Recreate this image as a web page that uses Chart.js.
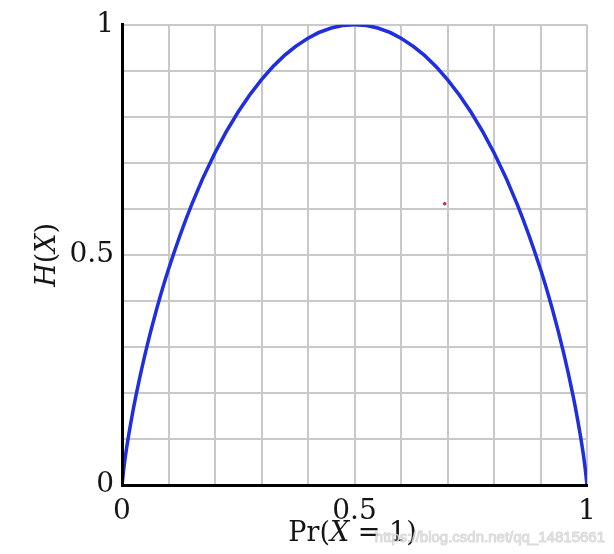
<!DOCTYPE html>
<html>
<head>
<meta charset="utf-8">
<script src="https://cdn.jsdelivr.net/npm/chart.js@4"></script>
<style>
  html, body { margin: 0; padding: 0; background: #fff; }
  #grafico { display: block; }
</style>
</head>
<body>
<canvas id="grafico" width="614" height="554"></canvas>
<script>
// Pr(X = 1) e H(X)
const probabilidades = [0, 0.005, 0.01, 0.02, 0.03, 0.05, 0.075, 0.1, 0.15, 0.2, 0.25, 0.3, 0.35, 0.4, 0.45, 0.5,
    0.55, 0.6, 0.65, 0.7, 0.75, 0.8, 0.85, 0.9, 0.925, 0.95, 0.97, 0.98, 0.99, 0.995, 1];
const entropias = [0, 0.045, 0.081, 0.141, 0.194, 0.286, 0.384, 0.469, 0.610, 0.722, 0.811, 0.881, 0.934, 0.971, 0.993, 1,
    0.993, 0.971, 0.934, 0.881, 0.811, 0.722, 0.610, 0.469, 0.384, 0.286, 0.194, 0.141, 0.081, 0.045, 0];
const rotulosX = [0, 0.5, 1];
const rotulosY = [0, 0.5, 1];
// pontinho vermelho perdido na imagem
const pontoSolto = [{ x: 0.694, y: 0.611 }];

const corCurva = `#1e2ee0`;
const corGrade = `#c9c9c9`;
const corTexto = `#151515`;
const fonteSerif = `"DejaVu Serif", "Liberation Serif", serif`;

const rotulo = lista => valor => {
    const v = Math.round(valor * 10) / 10;
    return lista.includes(v) ? String(v) : "";
};

function escreverPartes(ctx, partes, xCentro, y) {
    let larg = 0;
    partes.forEach(p => { ctx.font = p.f; larg += ctx.measureText(p.t).width; });
    let x = xCentro - larg / 2;
    partes.forEach(p => {
        ctx.font = p.f;
        ctx.fillText(p.t, x, y);
        x += ctx.measureText(p.t).width;
    });
}

const titulos = {
    id: "titulos",
    afterDraw(chart) {
        const { ctx, chartArea } = chart;
        const normal = `27px ${fonteSerif}`;
        const italico = `italic 27px ${fonteSerif}`;
        ctx.save();
        ctx.fillStyle = corTexto;
        ctx.textBaseline = "middle";
        ctx.textAlign = "left";

        escreverPartes(ctx, [
            { t: "Pr(", f: normal },
            { t: "X", f: italico },
            { t: " = 1)", f: normal },
        ], (chartArea.left + chartArea.right) / 2 - 2, 534);

        ctx.translate(48, (chartArea.top + chartArea.bottom) / 2);
        ctx.rotate(-Math.PI / 2);
        escreverPartes(ctx, [
            { t: "H", f: italico },
            { t: "(", f: normal },
            { t: "X", f: italico },
            { t: ")", f: normal },
        ], 0, 0);
        ctx.restore();

        // marca d'agua
        ctx.save();
        ctx.font = `15px "Liberation Sans", Arial, sans-serif`;
        ctx.textAlign = "right";
        ctx.textBaseline = "middle";
        ctx.fillStyle = "rgba(222,222,222,0.92)";
        ctx.strokeStyle = "rgba(140,140,140,0.35)";
        ctx.lineWidth = 1;
        ctx.strokeText("https://blog.csdn.net/qq_14815661", 605, 538);
        ctx.fillText("https://blog.csdn.net/qq_14815661", 605, 538);
        ctx.restore();
    }
};

const ctx = document.querySelector("#grafico");

new Chart(ctx, {
    type: "scatter",
    data: {
        datasets: [
            {
                data: probabilidades.map((p, i) => ({ x: p, y: entropias[i] })),
                showLine: true,
                borderColor: corCurva,
                borderWidth: 3.5,
                pointRadius: 0,
                cubicInterpolationMode: "monotone",
                fill: false,
            },
            {
                data: pontoSolto,
                pointRadius: 1.8,
                pointBackgroundColor: "#c0303a",
                pointBorderWidth: 0,
            }
        ]
    },
    options: {
        responsive: false,
        animation: false,
        layout: { padding: { left: 0, top: 22, right: 27, bottom: 0 } },
        plugins: { legend: { display: false }, tooltip: { enabled: false } },
        scales: {
            x: {
                type: "linear",
                min: 0,
                max: 1,
                afterFit: scale => { scale.height = 69; },
                border: { color: "#000", width: 3, z: 1 },
                grid: { color: corGrade, lineWidth: 2, drawTicks: false },
                ticks: {
                    stepSize: 0.1,
                    autoSkip: false,
                    maxRotation: 0,
                    padding: 10,
                    color: corTexto,
                    font: { family: fonteSerif, size: 28 },
                    callback: rotulo(rotulosX),
                }
            },
            y: {
                type: "linear",
                min: 0,
                max: 1,
                afterFit: scale => { scale.width = 122; },
                border: { color: "#000", width: 3, z: 1 },
                grid: { color: corGrade, lineWidth: 2, drawTicks: false },
                ticks: {
                    stepSize: 0.1,
                    autoSkip: false,
                    padding: 8,
                    color: corTexto,
                    font: { family: fonteSerif, size: 28 },
                    callback: rotulo(rotulosY),
                }
            }
        }
    },
    plugins: [titulos]
});
</script>
</body>
</html>
